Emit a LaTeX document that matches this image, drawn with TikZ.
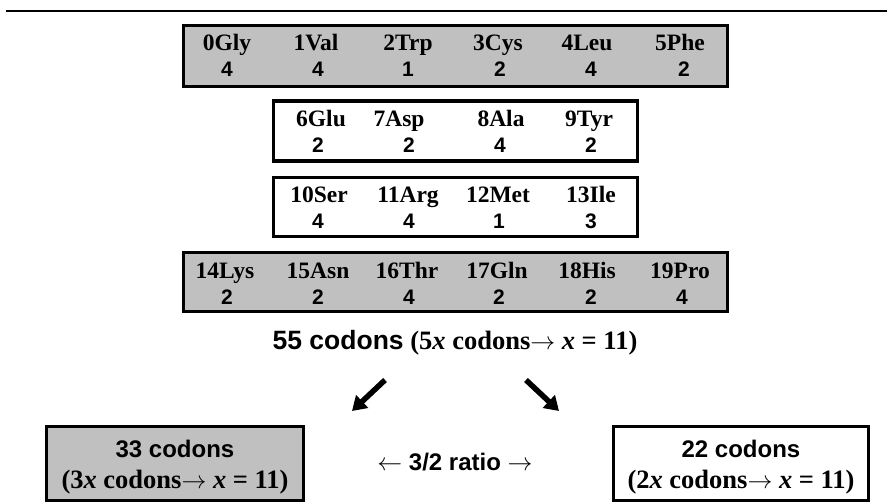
\documentclass[tikz,border=0pt]{standalone}
\usepackage{fontspec}
\setmainfont{Liberation Serif}
\newfontfamily\arialf{Liberation Sans}
\usetikzlibrary{arrows.meta}
\definecolor{boxgray}{RGB}{192,192,192}
\newcommand{\labfont}{\fontsize{23.5}{25}\selectfont\bfseries}
\newcommand{\numfont}{\fontsize{21}{23}\selectfont\arialf\bfseries}
\newcommand{\midfont}{\fontsize{26.5}{28}\selectfont\bfseries}
\newcommand{\boxsans}{\fontsize{24}{26}\selectfont\arialf\bfseries}
\newcommand{\boxserif}{\fontsize{26.5}{28}\selectfont\bfseries}
\newcommand{\xx}{\textit{x}}
\newcommand{\rarr}{\ensuremath{\rightarrow}}
\newcommand{\larr}{\ensuremath{\leftarrow}}
\tikzset{
  lab/.style={font=\labfont, anchor=base, inner sep=0pt},
  num/.style={font=\numfont, anchor=base, inner sep=0pt},
  txt/.style={anchor=base, inner sep=0pt},
  rowbox/.style={draw, line width=3.3pt, rectangle, inner sep=0pt},
  bigarrow/.style={line width=5.5pt, -{Triangle[length=14pt,width=17pt]}}
}
\begin{document}
\begin{tikzpicture}[x=1pt,y=-1pt]
\useasboundingbox (0,0) rectangle (887,503);
% top rule
\coordinate (ruleA) at (6,11);
\coordinate (ruleB) at (887,11);
\draw[line width=2.2pt] (ruleA) -- (ruleB);
% row boxes
\node[rowbox, fill=boxgray, minimum width=544pt, minimum height=60.6pt] (row1) at (455.3,56) {};
\node[rowbox, fill=white, minimum width=364pt, minimum height=60pt] (row2) at (455.3,131) {};
\node[rowbox, fill=white, minimum width=364pt, minimum height=58.9pt] (row3) at (455.3,206.9) {};
\node[rowbox, fill=boxgray, minimum width=544pt, minimum height=58.6pt] (row4) at (455.3,282) {};
% row 1
\node[lab] (l0) at (227,51) {0Gly};  \node[num] (n0) at (227,77) {4};
\node[lab] (l1) at (316,51) {1Val};  \node[num] (n1) at (318,77) {4};
\node[lab] (l2) at (408,51) {2Trp};  \node[num] (n2) at (408,77) {1};
\node[lab] (l3) at (498,51) {3Cys};  \node[num] (n3) at (500,77) {2};
\node[lab] (l4) at (587,51) {4Leu};  \node[num] (n4) at (591,77) {4};
\node[lab] (l5) at (680,51) {5Phe};  \node[num] (n5) at (684,77) {2};
% row 2
\node[lab] (l6) at (321,126) {6Glu};  \node[num] (n6) at (318,152) {2};
\node[lab] (l7) at (399,126) {7Asp};  \node[num] (n7) at (409,152) {2};
\node[lab] (l8) at (501,126) {8Ala};  \node[num] (n8) at (500,152) {4};
\node[lab] (l9) at (589,126) {9Tyr};  \node[num] (n9) at (591,152) {2};
% row 3
\node[lab] (l10) at (319,202) {10Ser};  \node[num] (n10) at (318,228) {4};
\node[lab] (l11) at (408,202) {11Arg};  \node[num] (n11) at (409,228) {4};
\node[lab] (l12) at (498,202) {12Met};  \node[num] (n12) at (499,228) {1};
\node[lab] (l13) at (591,202) {13Ile};  \node[num] (n13) at (591,228) {3};
% row 4
\node[lab] (l14) at (225,278) {14Lys};  \node[num] (n14) at (227,304) {2};
\node[lab] (l15) at (318,278) {15Asn};  \node[num] (n15) at (318,304) {2};
\node[lab] (l16) at (407,278) {16Thr};  \node[num] (n16) at (409,304) {4};
\node[lab] (l17) at (497,278) {17Gln};  \node[num] (n17) at (499,304) {2};
\node[lab] (l18) at (587,278) {18His};  \node[num] (n18) at (591,304) {2};
\node[lab] (l19) at (680,278) {19Pro};  \node[num] (n19) at (682,304) {4};
% summary line
\node[txt, font=\midfont] (total) at (455,349) {{\arialf 55 codons} (5\xx{} codons\rarr{} \xx{} = 11)};
% arrows
\coordinate (la1) at (385,380);
\coordinate (la2) at (352,411);
\coordinate (ra1) at (526,380);
\coordinate (ra2) at (559,411);
\draw[bigarrow] (la1) -- (la2);
\draw[bigarrow] (ra1) -- (ra2);
% bottom boxes
\node[rowbox, fill=boxgray, minimum width=256.6pt, minimum height=73.6pt] (left) at (175,463.5) {};
\node[rowbox, fill=white, minimum width=254.6pt, minimum height=73.6pt] (right) at (741,463.5) {};
\node[txt, font=\boxsans] (l33a) at (175,457) {33 codons};
\node[txt, font=\boxserif] (l33b) at (175,488) {(3\xx{} codons\rarr{} \xx{} = 11)};
\node[txt, font=\boxsans] (r22a) at (741,457) {22 codons};
\node[txt, font=\boxserif] (r22b) at (741,488) {(2\xx{} codons\rarr{} \xx{} = 11)};
% ratio
\node[txt, font=\boxsans] (ratio) at (455,470) {\larr{} 3/2 ratio \rarr};
\end{tikzpicture}
\end{document}
